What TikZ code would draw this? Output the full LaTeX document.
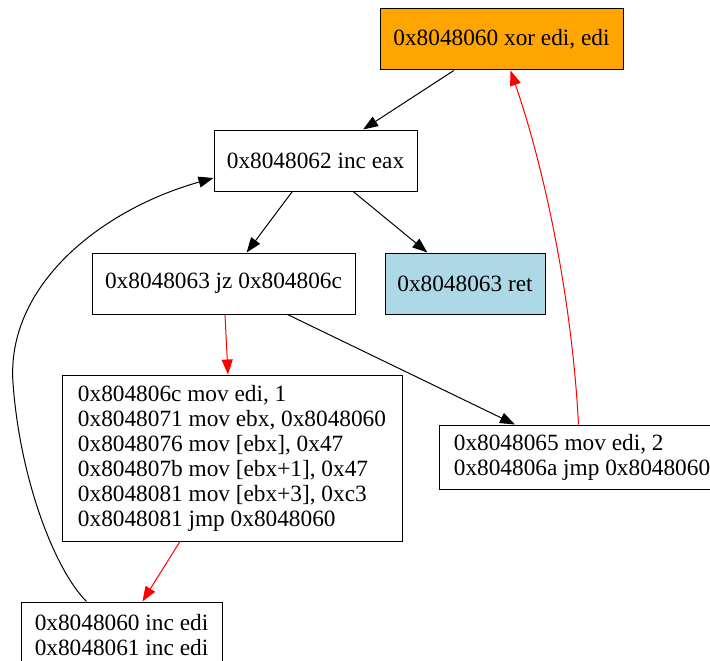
\documentclass[tikz,border=0pt]{standalone}
\usepackage{fontspec}
\setmainfont{Liberation Serif}
\usetikzlibrary{arrows.meta,calc}
\definecolor{gvorange}{HTML}{FFA500}
\definecolor{gvblue}{HTML}{ADD8E6}
\definecolor{gvred}{HTML}{FF0000}
\begin{document}
\begin{tikzpicture}[x=1pt,y=-1pt,
  blk/.style={draw=black, line width=1pt, rectangle, inner sep=0pt,
    font=\fontsize{23.3}{25}\selectfont, minimum height=61pt},
  lblk/.style={blk, align=left},
  edge/.style={line width=1pt, -{Triangle[length=15pt,width=11pt]}},
  ]
\useasboundingbox (0,0) rectangle (710,661);
\clip (0,0) rectangle (710,661);
\node[blk, fill=gvorange, minimum width=243pt] (A) at (501.5,39.5) {0x8048060 xor edi, edi};
\node[blk, minimum width=203pt] (B) at (315.5,160.5) {0x8048062 inc eax};
\node[blk, minimum width=263pt] (C) at (223.5,283.5) {0x8048063 jz 0x804806c};
\node[blk, fill=gvblue, minimum width=160pt] (D) at (465,283.5) {0x8048063 ret};
\node[lblk, minimum width=340pt, minimum height=166pt] (E) at (232,458)
  {0x804806c mov edi, 1\\0x8048071 mov ebx, 0x8048060\\0x8048076 mov [ebx], 0x47\\0x804807b mov [ebx+1], 0x47\\0x8048081 mov [ebx+3], 0xc3\\0x8048081 jmp 0x8048060};
\node[lblk, minimum width=286pt, minimum height=64pt] (F) at (582,457)
  {0x8048065 mov edi, 2\\0x804806a jmp 0x8048060};
\node[lblk, minimum width=201pt, minimum height=66pt] (G) at (121.5,635)
  {0x8048060 inc edi\\0x8048061 inc edi};
\draw[edge] (A) -- (B);
\draw[edge] (B) -- (C);
\draw[edge] (B) -- (D);
\draw[edge, gvred] (C) -- (E);
\draw[edge] (C) -- (F);
\draw[edge, gvred] (E) -- (G);
\draw[edge, gvred] ([xshift=140pt]F.north west) .. controls (572,300) and (545,170) .. ([xshift=131pt]A.south west);
\draw[edge] ([xshift=66pt]G.north west) .. controls (55,570) and (20,480) .. (13,383)
  .. controls (6,286) and (100,210) .. ([yshift=-17.5pt]B.west);
\end{tikzpicture}
\end{document}
